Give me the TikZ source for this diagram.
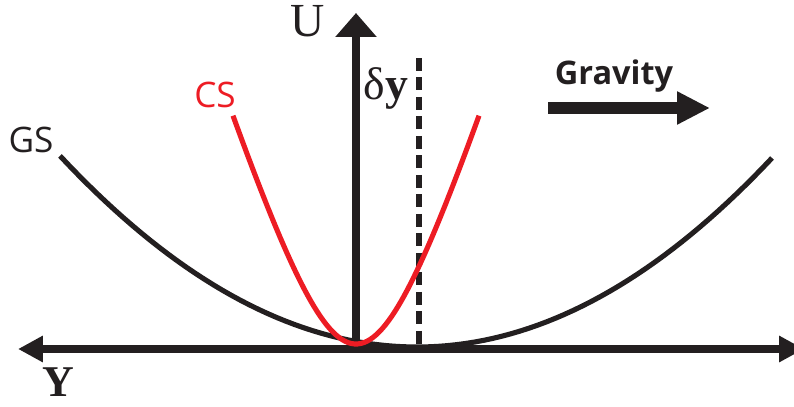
\documentclass[tikz,border=0pt]{standalone}
\usepackage{fontspec}
\setmainfont{Liberation Serif}
\setsansfont{Open Sans}
\usepackage{xcolor}
\usepackage{tikz}
\usetikzlibrary{arrows.meta, positioning}

\definecolor{inkblack}{RGB}{35,31,32}
\definecolor{csred}{RGB}{237,28,36}

\begin{document}
\begin{tikzpicture}[
    x=0.02cm, y=-0.02cm,
    axis/.style={line width=4.8pt, draw=inkblack},
    curve/.style={line width=2.9pt},
    lbl/.style={inner sep=0pt, text=inkblack},
    sanslbl/.style={inner sep=0pt, font=\sffamily\fontsize{20}{20}\selectfont}
]
\useasboundingbox (0,0) rectangle (794,406);

% axes
\coordinate (origin) at (356,349);
\coordinate (utop) at (356,13);
\coordinate (yleft) at (18,349);
\coordinate (yright) at (804,349);
\draw[axis, -{Triangle[length=0.48cm, width=0.8cm]}] (origin) -- (utop);
\draw[axis, {Triangle[length=0.5cm, width=0.5cm]}-{Triangle[length=0.5cm, width=0.5cm]}] (yleft) -- (yright);

% shifted minimum
\coordinate (dytop) at (419,58);
\coordinate (dybot) at (419,349);
\draw[line width=3.2pt, draw=inkblack, dash pattern=on 0.26cm off 0.13cm] (dytop) -- (dybot);

% GS and CS curves
\draw[curve, draw=inkblack] plot[domain=-357:355, samples=80] ({417+\x},{347-(0.03873*\x)^2});
\draw[curve, draw=csred] plot[domain=-123:123, samples=80] ({356+\x},{344-214*(sqrt(1+(\x/68)^2)-1)});

% labels
\node[lbl, font=\fontsize{27}{27}\selectfont] (ulbl) at (308,21) {U};
\node[lbl, font=\fontsize{26}{26}\selectfont] (dylbl) at (386,88) {δ\textbf{y}};
\node[lbl, font=\bfseries\fontsize{25}{25}\selectfont] (ylbl) at (58,382) {Y};
\node[sanslbl, text=inkblack] (gslbl) at (31,140) {GS};
\node[sanslbl, text=csred] (cslbl) at (215,95) {CS};

% gravity
\node[lbl, font=\sffamily\bfseries\fontsize{18.5}{18.5}\selectfont] (gravity) at (614,76) {Gravity};
\coordinate (gstart) at (548,108);
\coordinate (gend) at (710,108);
\draw[line width=6.3pt, draw=inkblack, -{Triangle[length=0.66cm, width=0.62cm]}] (gstart) -- (gend);
\end{tikzpicture}
\end{document}
